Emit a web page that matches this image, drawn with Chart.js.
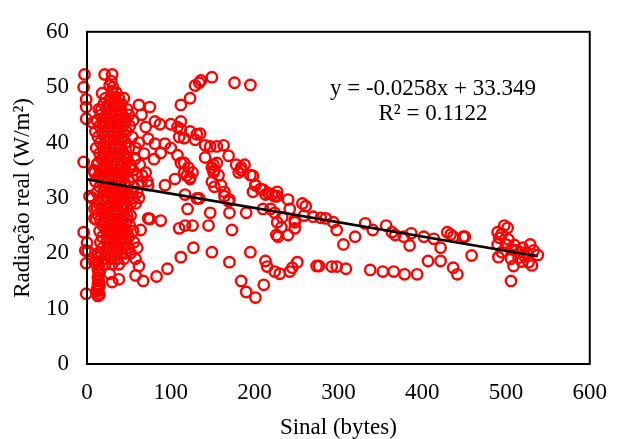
<!DOCTYPE html>
<html>
<head>
<meta charset="utf-8">
<script src="https://cdn.jsdelivr.net/npm/chart.js@4.4.1/dist/chart.umd.min.js"></script>
<style>
  html, body { margin: 0; padding: 0; background: #fff; }
  #wrap { width: 622px; height: 439px; }
</style>
</head>
<body>
<div id="wrap"><canvas id="radiacaoChart" width="622" height="439"></canvas></div>
<script>
// Points, grouped by region: [sinal (bytes), radiação (W/m²)]
const pontosEixo = [
  [-3, 52.3], [-4, 50], [-1, 47.8], [-1, 46.4], [-1, 44.3], [-4, 36.5],
  [-4, 23.8], [-2, 20.5], [1, 20.4], [-1, 18.2], [-1, 12.7]
];

const pontosColunaBaixa = [
  [13, 20], [14, 19.2], [13, 18.5], [14, 17.8], [13, 17], [14, 16.3], [13, 15.6],
  [14, 15], [13, 14.4], [14, 13.8], [13, 13.2], [14, 12.7], [13, 12.3], [15, 12.5],
  [12, 13.5], [15, 14.2], [15, 16.8], [12, 19.6]
];

const pontosColuna = [
  [21, 52.3], [30, 52.3], [27, 50.3], [31, 50], [18, 48.9], [30, 49], [35, 49],
  [22, 48], [28, 48], [33, 48], [38, 48], [44, 48],
  [20, 47], [26, 47], [32, 47], [36, 47], [41, 47],
  [14, 46], [24, 46], [30, 46], [40, 46], [48, 46],
  [17, 45], [23, 45], [29, 45], [35, 45], [42, 45], [50, 45],
  [12, 44], [20, 44], [27, 44], [33, 44], [38, 44], [46, 44], [55, 44],
  [15, 43], [22, 43], [30, 43], [36, 43], [43, 43], [51, 43],
  [10, 42], [18, 42], [25, 42], [32, 42], [39, 42], [47, 42],
  [13, 41], [21, 41], [28, 41], [35, 41], [42, 41], [54, 41],
  [16, 40], [24, 40], [31, 40], [38, 40], [46, 40], [62, 40],
  [11, 39], [19, 39], [27, 39], [34, 39], [41, 39], [50, 39], [58, 39],
  [15, 38], [22, 38], [30, 38], [37, 38], [44, 38], [68, 38],
  [18, 37], [26, 37], [33, 37], [40, 37], [48, 37], [57, 37], [80, 37],
  [12, 36], [21, 36], [29, 36], [36, 36], [43, 36], [52, 36], [63, 36],
  [8, 35], [16, 35], [24, 35], [31, 35], [39, 35], [46, 35], [55, 35],
  [14, 34], [22, 34], [29, 34], [37, 34], [44, 34], [60, 34], [66, 34],
  [10, 33], [18, 33], [26, 33], [34, 33], [41, 33], [50, 33], [72, 33],
  [15, 32], [23, 32], [31, 32], [38, 32], [47, 32], [56, 32],
  [12, 31], [20, 31], [28, 31], [36, 31], [44, 31], [53, 31], [60, 31],
  [18, 30], [25, 30], [33, 30], [40, 30], [48, 30], [55, 30], [62, 30],
  [14, 29], [22, 29], [30, 29], [37, 29], [45, 29], [52, 29], [58, 29],
  [17, 28], [25, 28], [33, 28], [41, 28], [48, 28.5],
  [13, 27], [21, 27], [29, 27], [36, 27], [44, 27],
  [16, 26], [24, 26], [32, 26], [40, 26], [48, 26],
  [19, 25], [27, 25], [35, 25], [43, 25], [51, 25],
  [15, 24], [23, 24], [31, 24], [39, 24], [47, 24], [55, 24],
  [18, 23], [26, 23], [34, 23], [42, 23], [50, 23],
  [16, 22], [24, 22], [32, 22], [40, 22], [47, 22], [56, 22],
  [19, 21], [27, 21], [35, 21], [43, 21], [50, 21],
  [17, 20], [25, 20], [33, 20], [41, 20], [46, 20], [52, 20],
  [20, 19], [28, 19], [36, 19], [44, 19],
  [22, 18], [30, 18], [38, 18]
];

// extra readings filling the solid core of the column
const pontosNucleo = [
  [25, 46.5], [34, 46.5], [21, 43.5], [29, 43.5], [37, 43.5], [24, 40.5], [33, 40.5], [41, 40.5],
  [20, 37.5], [29, 37.5], [37, 37.5], [45, 37.5], [25, 34.5], [33, 34.5], [41, 34.5],
  [21, 31.5], [30, 31.5], [39, 31.5], [26, 28.5], [35, 28.5], [43, 28.5], [20, 25.5],
  [29, 25.5], [38, 25.5], [46, 25.5], [24, 22.5], [33, 22.5], [41, 22.5], [28, 19.5],
  [36, 20.5], [19, 33.5], [46, 32.5], [51, 35.5], [35, 27.5], [30, 23.5], [38, 29.5]
];

const pontosFaixaSuperior = [
  [62, 46.8], [75, 46.4], [65, 45], [81, 43.8], [87, 43.3], [100, 43.3], [108, 42.8],
  [112, 43.8], [123, 42], [131, 41.5], [110, 41], [70, 42.8], [73, 40.7], [81, 39.8],
  [88, 38.1], [93, 39.8], [100, 39], [112, 42.4], [116, 40.8], [129, 40.5], [135, 41.6],
  [141, 39.5], [147, 39.3], [155, 39.3], [163, 39.5], [141, 37.3], [169, 37.6], [151, 36],
  [155, 36.3], [178, 36], [184, 35.5], [188, 36], [195, 34.1], [201, 32.3], [207, 31.6],
  [213, 30.6], [221, 30.6], [227, 30.3], [240, 29.7], [257, 29], [261, 28.5], [242, 28],
  [259, 26.8], [270, 26.6], [279, 26.4], [285, 26.3], [294, 25.6], [298, 24.2], [306, 21.6],
  [320, 23], [332, 25.4], [341, 24.2], [357, 25], [364, 23.8], [368, 23.3], [378, 23],
  [387, 23.6], [385, 21.4], [402, 23], [414, 22.6], [422, 21], [430, 23.8], [434, 23.4],
  [437, 23], [449, 23], [210, 28], [224, 27.3], [227, 25.6], [233, 26.5], [248, 25.6],
  [248, 24.5], [228, 23], [240, 23.3]
];

const pontosFaixaMedia = [
  [108, 37.7], [116, 36.3], [121, 35.5], [126, 34.6], [123, 33.4], [149, 35.5], [152, 35],
  [157, 34.1], [149, 32.9], [152, 32], [160, 32.3], [164, 30.3], [169, 29.4], [184, 35],
  [117, 30.6], [131, 29.9], [105, 33.4], [93, 32.3], [70, 34.6], [65, 32.9], [73, 32.3],
  [112, 36.3], [116, 34.6], [123, 33.7], [119, 34], [151, 34.6], [164, 31.1], [170, 29.7],
  [198, 31.1], [198, 34], [181, 34.6], [201, 32.3], [210, 31.5], [216, 30.9], [224, 30.3],
  [227, 31.1]
];

const pontosSubida = [
  [112, 46.8], [123, 48], [129, 50.3], [134, 50.8], [136, 51.2], [149, 51.8], [176, 50.8],
  [195, 50.4]
];

const pontosDispersos = [
  [120, 28], [117, 25], [126, 25], [134, 29.9], [147, 27.3], [145, 25], [170, 27.3],
  [173, 24.2], [190, 27.3], [127, 21], [112, 19.3], [149, 20.2], [170, 18.4], [195, 20.2],
  [184, 15], [190, 13], [201, 12], [211, 14.3], [213, 18.6], [215, 17.6], [224, 16.7],
  [230, 16.3], [242, 16.7], [245, 17.4], [251, 18.4], [274, 17.7], [277, 17.7], [292, 17.6],
  [298, 17.6], [309, 17.2], [338, 17], [353, 16.7], [366, 16.7], [379, 16.2], [394, 16.2],
  [407, 18.6], [422, 18.6], [437, 17.4], [442, 16.2], [459, 19.6], [96, 17.2], [83, 15.8],
  [75, 26.2], [88, 25.9], [110, 24.5], [52, 26.8], [64, 24.2], [60, 21], [58, 19], [62, 17.7],
  [58, 16], [67, 15], [27, 16.3], [30, 14.8], [38, 15.3], [48, 26.8], [73, 26.3], [9, 18.4],
  [0, 21.9], [9, 26.3], [9, 28], [3, 30.3], [6, 30], [12, 28], [11, 26.1], [13, 36.3],
  [7, 43.6], [9, 34.6], [17, 45.9], [29, 51.1], [219, 28], [232, 24.7], [226, 23.3], [248, 26]
];

const pontosDireita = [
  [490, 23.8], [498, 25], [502, 24.6], [492, 22.8], [490, 21.6], [495, 20.2], [491, 19.3],
  [506, 19], [512, 20.5], [517, 20.2], [529, 21.6], [527, 18.4], [538, 19.7], [509, 17.7],
  [531, 17.8], [506, 15], [522, 19.5], [515, 19.2], [507, 20.7], [500, 21.6], [451, 23],
  [520, 21], [525, 20], [533, 20.5], [510, 21.5], [503, 22.5], [495, 23.5], [519, 18.5]
];

// Linear trend as printed on the chart
const tendInclinacao = -0.0258;
const tendIntercepto = 33.349;
const tendX = [0, 538];

const xTicks = [0, 100, 200, 300, 400, 500, 600];
const yTicks = [0, 10, 20, 30, 40, 50, 60];

const todosPontos = [].concat(pontosEixo, pontosColunaBaixa, pontosColuna, pontosNucleo,
  pontosFaixaSuperior, pontosFaixaMedia, pontosSubida, pontosDispersos, pontosDireita);

const fonteSerif = 'Liberation Serif, Times New Roman, serif';

// Box around the plot area plus the trendline label
const molduraPlugin = {
  id: 'moldura',
  afterDraw(chart) {
    const { ctx, chartArea } = chart;
    ctx.save();
    ctx.strokeStyle = '#000';
    ctx.lineWidth = 2;
    ctx.strokeRect(chartArea.left, chartArea.top, chartArea.right - chartArea.left, chartArea.bottom - chartArea.top);
    ctx.fillStyle = '#000';
    ctx.font = '23px ' + fonteSerif;
    ctx.textAlign = 'center';
    ctx.textBaseline = 'middle';
    ctx.fillText('y = -0.0258x + 33.349', 433, 89);
    ctx.fillText('R² = 0.1122', 433, 114);
    ctx.restore();
  }
};

new Chart(document.getElementById('radiacaoChart'), {
  type: 'scatter',
  data: {
    datasets: [
      {
        type: 'line',
        label: 'Tendência',
        data: tendX.map(x => ({ x: x, y: tendIntercepto + tendInclinacao * x })),
        borderColor: '#000',
        borderWidth: 2.7,
        pointRadius: 0,
        fill: false,
        order: 0
      },
      {
        label: 'Radiação real',
        data: todosPontos.map(p => ({ x: p[0], y: p[1] })),
        pointStyle: 'circle',
        pointRadius: 5.2,
        pointBorderWidth: 2.4,
        pointBorderColor: '#ff0000',
        pointBackgroundColor: 'rgba(0,0,0,0)',
        showLine: false,
        clip: false,
        order: 1
      }
    ]
  },
  options: {
    responsive: false,
    animation: false,
    devicePixelRatio: 1,
    layout: { padding: { left: 0, right: 19, top: 19, bottom: 0 } },
    plugins: {
      legend: { display: false },
      tooltip: { enabled: false }
    },
    scales: {
      x: {
        type: 'linear',
        min: 0,
        max: 600,
        afterBuildTicks: (scale) => { scale.ticks = xTicks.map(v => ({ value: v })); },
        afterFit: (scale) => { scale.height = 75; },
        grid: { display: false, drawTicks: false },
        border: { display: true, color: '#000', width: 2 },
        ticks: { color: '#000', padding: 15, font: { family: fonteSerif, size: 23 } },
        title: {
          display: true,
          text: 'Sinal (bytes)',
          color: '#000',
          padding: 0,
          font: { family: fonteSerif, size: 23, lineHeight: 1 }
        }
      },
      y: {
        min: 0,
        max: 60,
        afterBuildTicks: (scale) => { scale.ticks = yTicks.map(v => ({ value: v })); },
        afterFit: (scale) => { scale.width = 87; },
        grid: { display: false, drawTicks: false },
        border: { display: true, color: '#000', width: 2 },
        ticks: { color: '#000', padding: 18, font: { family: fonteSerif, size: 23 } },
        title: {
          display: true,
          text: 'Radiação real (W/m²)',
          color: '#000',
          padding: { top: 11, bottom: 0 },
          font: { family: fonteSerif, size: 23, lineHeight: 1 }
        }
      }
    }
  },
  plugins: [molduraPlugin]
});
</script>
</body>
</html>
